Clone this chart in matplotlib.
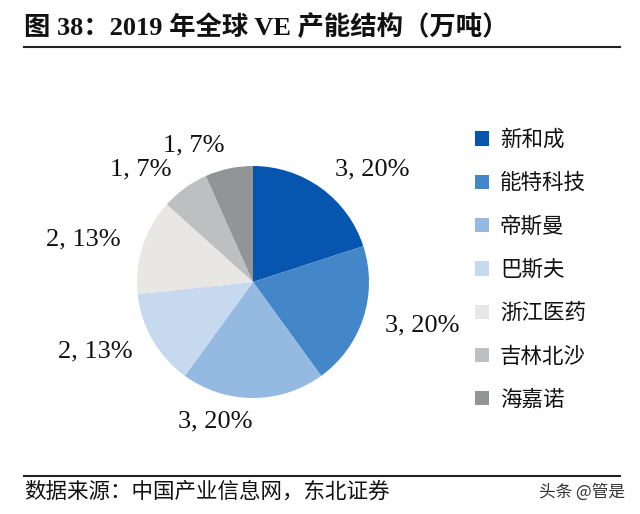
import matplotlib.pyplot as plt
from matplotlib.lines import Line2D

# --- data -------------------------------------------------------------------
companies = ["新和成", "能特科技", "帝斯曼", "巴斯夫", "浙江医药", "吉林北沙", "海嘉诺"]
capacity = [3, 3, 3, 2, 2, 1, 1]          # 万吨
shares = [20, 20, 20, 13, 13, 7, 7]       # %
colors = ["#0656b0", "#4387c9", "#95bae1", "#c6d9ef",
          "#e8e7e4", "#bebfc1", "#939496"]

title = "图 38：2019 年全球 VE 产能结构（万吨）"
source = "数据来源：中国产业信息网，东北证券"
watermark = "头条 @管是"

serif_cjk = ["Liberation Serif", "Noto Sans CJK SC"]
sans_cjk = ["Noto Sans CJK SC", "DejaVu Sans"]

W, H = 640, 514
fig = plt.figure(figsize=(W / 100, H / 100), dpi=100)
fig.patch.set_facecolor("white")

# pie axes: centre (253, 282) px, radius 116 px
L = 1.5
side = 2 * L * 116
ax = fig.add_axes([(253 - side / 2) / W, (H - 282 - side / 2) / H, side / W, side / H])

labels = [f"{c}, {s}%" for c, s in zip(capacity, shares)]
wedges, texts = ax.pie(capacity, labels=labels, colors=colors, startangle=90,
                       counterclock=False, labeldistance=1.2, radius=1,
                       textprops=dict(family="Liberation Serif", fontsize=19,
                                      color="#111111"))
for t in texts:
    t.set_verticalalignment("center")
# pie() resets the limits, so fix them afterwards
ax.set_xlim(-L, L)
ax.set_ylim(-L, L)
ax.set_aspect("equal")
ax.axis("off")

leg = fig.legend(wedges, companies, loc="upper left",
                 bbox_to_anchor=(475 / W, 1 - 129 / H), frameon=False,
                 prop=dict(family=sans_cjk, size=15.5), handlelength=0.65,
                 handleheight=0.65, handletextpad=0.5, labelspacing=0.99,
                 borderpad=0, borderaxespad=0)
for t in leg.get_texts():
    t.set_color("#111111")

# title and footer
fig.text(24 / W, 1 - 27 / H, title, family=serif_cjk, weight="bold",
         fontsize=19, va="center", ha="left", color="#111111")
fig.add_artist(Line2D([24 / W, 620 / W], [1 - 47 / H, 1 - 47 / H],
                      color="#222222", linewidth=1.5))
fig.add_artist(Line2D([24 / W, 620 / W], [1 - 476 / H, 1 - 476 / H],
                      color="#222222", linewidth=1.5))
fig.text(24 / W, 1 - 492 / H, source, family=sans_cjk, fontsize=15.5,
         va="center", ha="left", color="#111111")
fig.text(625 / W, 1 - 492 / H, watermark, family=sans_cjk, fontsize=12,
         va="center", ha="right", color="#333333")

fig.savefig("out.png", dpi=100, facecolor="white")
